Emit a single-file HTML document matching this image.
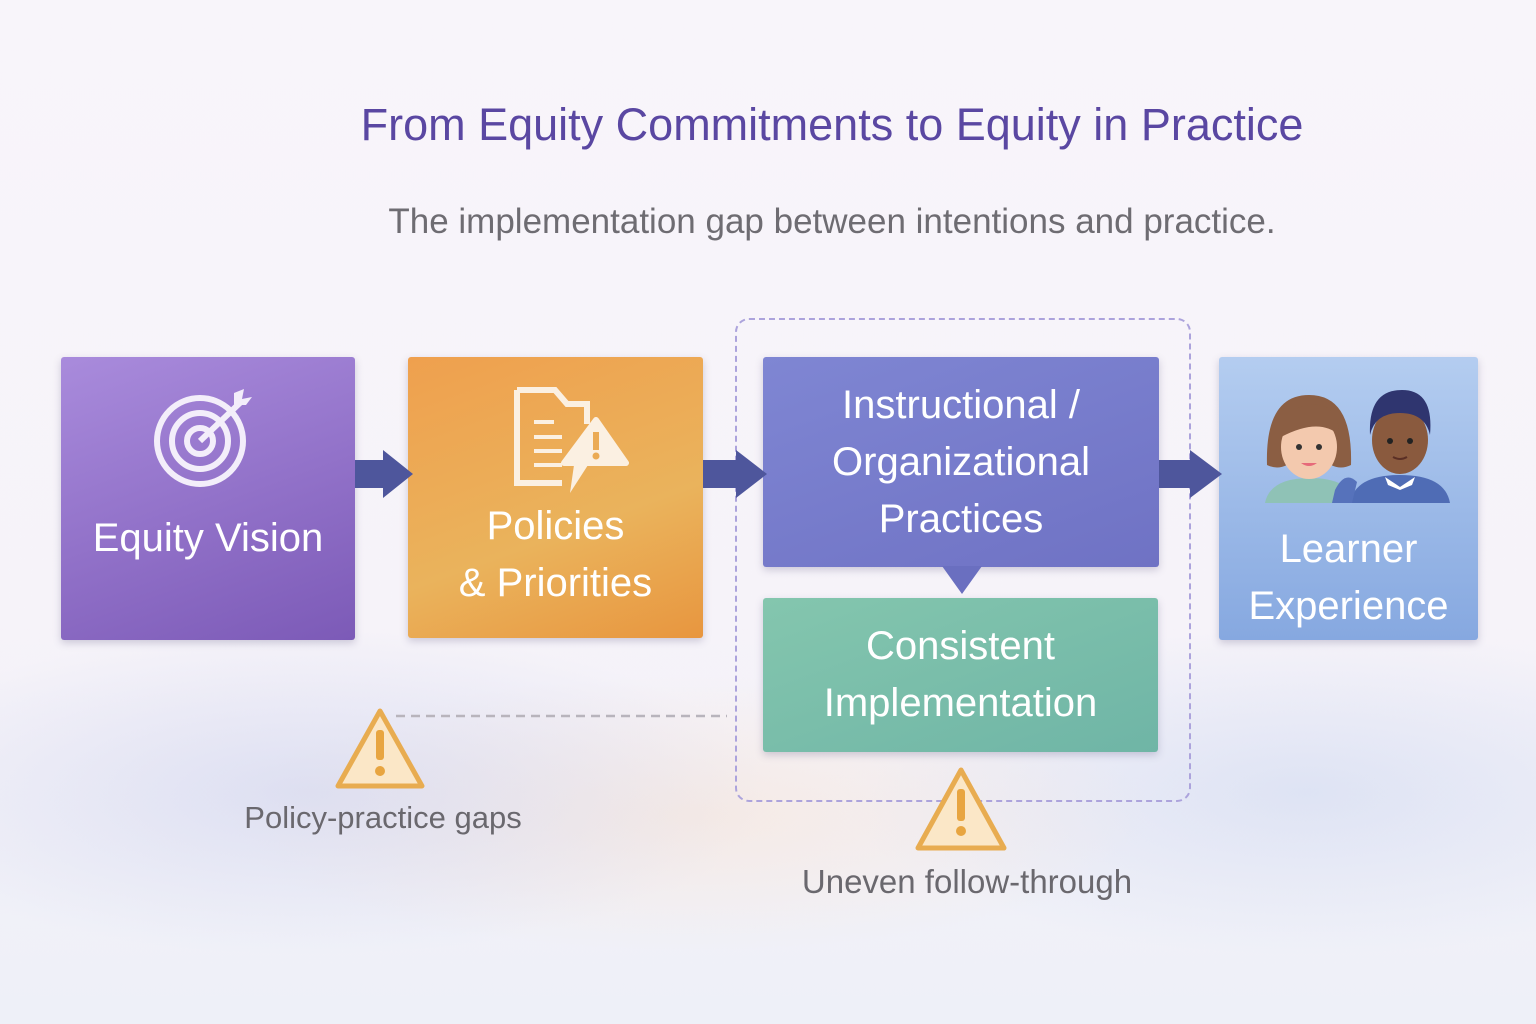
<!DOCTYPE html>
<html><head><meta charset="utf-8"><style>
body{margin:0;width:1536px;height:1024px;overflow:hidden;background:linear-gradient(180deg,#f8f5fa 0%,#f6f3f9 60%,#eef0f8 100%);font-family:"Liberation Sans","DejaVu Sans",sans-serif;position:relative}
.t{position:absolute;white-space:nowrap;text-align:center}
.box{position:absolute;border-radius:3px;box-shadow:0 3px 8px rgba(80,70,120,.25);color:#fff;display:flex;align-items:center;justify-content:center;text-align:center;font-size:40px;line-height:57px}
</style></head><body>
<div style="position:absolute;left:0;top:560px;width:1536px;height:464px;background:radial-gradient(ellipse 30% 35% at 20% 50%,rgba(200,205,235,.5),transparent),radial-gradient(ellipse 30% 30% at 45% 55%,rgba(250,225,205,.45),transparent),radial-gradient(ellipse 30% 35% at 85% 50%,rgba(205,215,240,.55),transparent)"></div>
<div class="t" style="left:0;width:1664px;top:99px;font-size:45px;color:#5a47a2">From Equity Commitments to Equity in Practice</div>
<div class="t" style="left:0;width:1664px;top:202px;font-size:35px;color:#6e6c72">The implementation gap between intentions and practice.</div>

<div style="position:absolute;left:735px;top:318px;width:452px;height:480px;border:2.5px dashed #aca3dc;border-radius:14px"></div>

<div class="box" style="left:61px;top:357px;width:294px;height:283px;background:linear-gradient(160deg,#a98bdc,#7c5ab7)"><div style="margin-top:80px">Equity Vision</div></div>
<svg style="position:absolute;left:150px;top:385px" width="110" height="110"><g fill="none" stroke="#f3eefa" stroke-width="6"><circle cx="50" cy="56" r="43"/><circle cx="50" cy="56" r="28"/><circle cx="50" cy="56" r="13"/><line x1="50" y1="56" x2="92" y2="16"/></g><path d="M84 8 l10 -4 -2 10 10 -2 -6 8 -12 0z" fill="#f3eefa"/></svg>

<div class="box" style="left:408px;top:357px;width:295px;height:281px;background:linear-gradient(160deg,#efa04e,#eab35c 60%,#e8963f)"><div style="margin-top:115px">Policies<br>&amp; Priorities</div></div>
<svg style="position:absolute;left:512px;top:387px" width="120" height="110"><g fill="none" stroke="#fbf0e2" stroke-width="6"><path d="M5 3 h38 l12 14 h20 v20 M5 3 v93 h45"/></g><g stroke="#fbf0e2" stroke-width="4"><line x1="22" y1="35" x2="42" y2="35"/><line x1="22" y1="50" x2="50" y2="50"/><line x1="22" y1="64" x2="50" y2="64"/><line x1="22" y1="78" x2="50" y2="78"/></g><path d="M84 33 L114 76 H52 Z" fill="#fbf0e2" stroke="#fbf0e2" stroke-width="6" stroke-linejoin="round"/><path d="M62 78 h14 l-18 28z" fill="#fbf0e2"/><rect x="81" y="45" width="6" height="18" fill="#ebab55"/><circle cx="84" cy="69" r="3.5" fill="#ebab55"/></svg>

<div class="box" style="left:763px;top:357px;width:396px;height:210px;background:linear-gradient(160deg,#7f86d3,#6f72c4)">Instructional /<br>Organizational<br>Practices</div>
<svg style="position:absolute;left:942px;top:566px" width="40" height="30"><path d="M0 0 H40 L20 28Z" fill="#6a6fc0"/></svg>
<div class="box" style="left:763px;top:598px;width:395px;height:154px;background:linear-gradient(160deg,#84c6ae,#6fb5a6)">Consistent<br>Implementation</div>

<div class="box" style="left:1219px;top:357px;width:259px;height:283px;background:linear-gradient(180deg,#b4cdf0,#86a8e0)"><div style="margin-top:158px">Learner<br>Experience</div></div>
<svg style="position:absolute;left:1255px;top:385px" width="200" height="120">
<path d="M10 118 q5-25 45-25 q40 0 45 25z" fill="#8fc2b6"/>
<path d="M12 80 q-2-70 42-70 q44 0 42 70 q-10 5-20 0 h-44 q-10 5-20 0z" fill="#8b5e43"/>
<ellipse cx="54" cy="62" rx="28" ry="32" fill="#f3c9ae"/>
<path d="M26 52 q5-35 38-32 q20 3 20 30 q-20-18-58 2z" fill="#8b5e43"/>
<circle cx="44" cy="62" r="3" fill="#333"/><circle cx="64" cy="62" r="3" fill="#333"/><path d="M46 78 q8 6 16 0z" fill="#e66a7a"/>
<path d="M95 118 q5-28 50-28 q45 0 50 28z" fill="#4f6cb5"/>
<ellipse cx="145" cy="55" rx="28" ry="34" fill="#8a5a3e"/>
<path d="M115 50 q-2-45 32-45 q32 0 28 45 q-5-22-30-22 q-25 0-30 22z" fill="#2f356f"/>
<circle cx="135" cy="56" r="3" fill="#222"/><circle cx="155" cy="56" r="3" fill="#222"/><path d="M138 72 q7 4 14 0" stroke="#5a2f25" stroke-width="2" fill="none"/>
<path d="M130 92 l15 10 15-10 -3 8 -12 5 -12-5z" fill="#fff"/>
<path d="M80 105 q10-20 22-8 l-5 21 h-20z" fill="#5672bb"/>
</svg>

<svg style="position:absolute;left:0;top:0" width="1536" height="1024">
<g fill="#4e569c"><rect x="355" y="460" width="30" height="28"/><path d="M383 450 L413 474 L383 498Z"/><rect x="703" y="460" width="35" height="28"/><path d="M736 450 L767 474 L736 498Z"/><rect x="1159" y="460" width="33" height="28"/><path d="M1190 450 L1222 474 L1190 498Z"/></g>
<line x1="396" y1="716" x2="727" y2="716" stroke="#b8b4bc" stroke-width="2.5" stroke-dasharray="9 6"/>
<g stroke="#e8ac50" stroke-width="5" stroke-linejoin="round" fill="#fbe7c7"><path d="M380 711 L422 786 H338Z"/><path d="M961 770 L1004 848 H918Z"/></g>
<g fill="#e8a540"><rect x="376" y="730" width="8" height="30" rx="3"/><circle cx="380" cy="771" r="5"/><rect x="957" y="789" width="8" height="32" rx="3"/><circle cx="961" cy="831" r="5"/></g>
</svg>
<div class="t" style="left:183px;width:400px;top:800px;font-size:31px;color:#6a686e">Policy-practice gaps</div>
<div class="t" style="left:767px;width:400px;top:863px;font-size:33px;color:#6a686e">Uneven follow-through</div>
</body></html>
